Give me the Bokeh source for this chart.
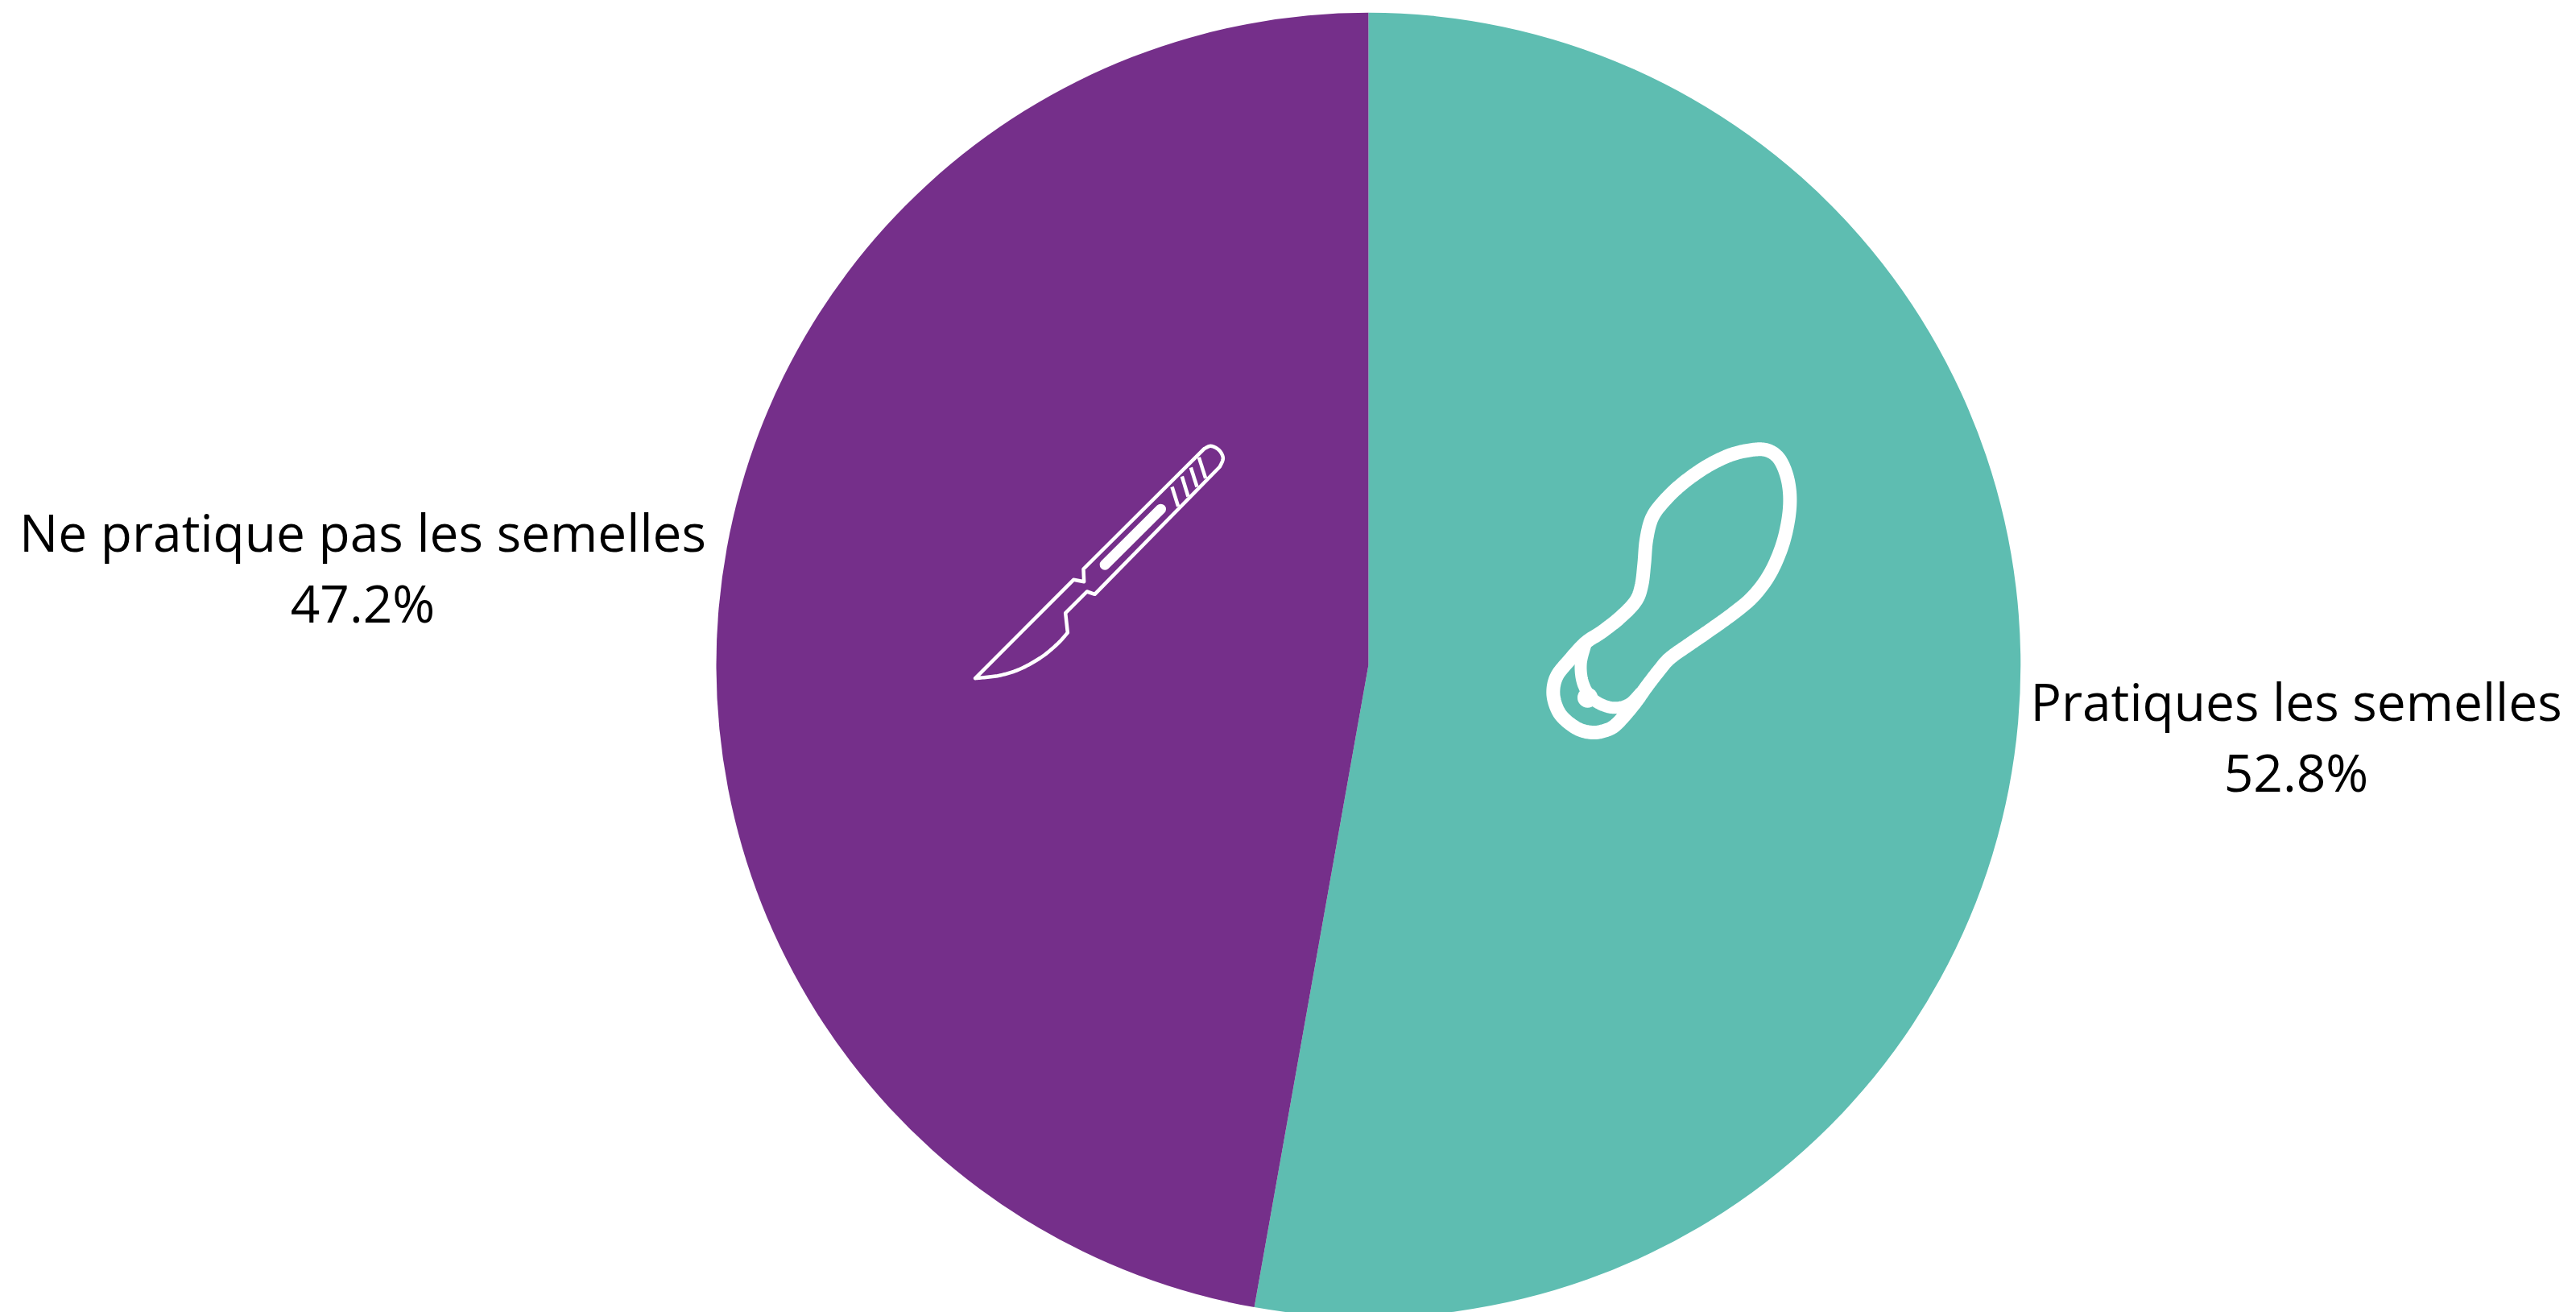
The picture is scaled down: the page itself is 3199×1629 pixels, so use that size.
from bokeh.plotting import figure
from bokeh.models import Range1d
from bokeh.core.properties import value
from bokeh.embed import file_html
from bokeh.resources import INLINE
import math

# ---- chart data ----
categories = ["Pratiques les semelles", "Ne pratique pas les semelles"]
shares = [52.8, 47.2]
colors = ["#5EBDB1", "#752F8A"]

W, H = 3199, 1629
CX, CY, R = 1698.9, 825.2, 809.9
LABEL_POS = [(2851, 870, 958), (450, 660, 748)]
FONT = "64px"

def X(px): return px
def Y(py): return H - py

p = figure(width=W, height=H, output_backend="svg", toolbar_location=None,
           x_range=Range1d(0, W), y_range=Range1d(0, H),
           min_border=0, outline_line_color=None, background_fill_color="white",
           border_fill_color="white")
p.axis.visible = False
p.grid.visible = False

# pie slices, clockwise from 12 o'clock
total = sum(shares)
angle = math.pi / 2
for share, col in zip(shares, colors):
    sweep = 2 * math.pi * share / total
    p.wedge(x=[CX], y=[Y(CY)], radius=R, start_angle=angle, end_angle=angle - sweep,
            direction="clock", fill_color=col, line_color=None)
    angle -= sweep

# labels
for cat, share, (lx, b1, b2) in zip(categories, shares, LABEL_POS):
    for txt, b in ((cat, b1), (f"{share}%", b2)):
        p.text(x=[lx], y=[Y(b)], text=[txt], text_font=value("Open Sans"),
               text_font_size=FONT, text_color="#000000", text_align="center",
               text_baseline="alphabetic")

# ---- decorative icons (outline only) ----
def smooth(pts, closed=False, n=16):
    out = []
    m = len(pts)
    rng = range(m if closed else m - 1)
    for i in rng:
        if closed:
            p0, p1, p2, p3 = pts[(i-1) % m], pts[i], pts[(i+1) % m], pts[(i+2) % m]
        else:
            p0, p1, p2, p3 = pts[max(i-1, 0)], pts[i], pts[i+1], pts[min(i+2, m-1)]
        for k in range(n):
            t = k / n
            out.append(tuple(0.5 * (2*p1[d] + (p2[d]-p0[d])*t + (2*p0[d]-5*p1[d]+4*p2[d]-p3[d])*t*t
                                    + (3*p1[d]-p0[d]-3*p2[d]+p3[d])*t**3) for d in (0, 1)))
    out.append(pts[0] if closed else pts[-1])
    return out

def draw(pts, ox, oy, width, cap="round"):
    p.line([X(ox + a / 3) for a, b in pts], [Y(oy + b / 3) for a, b in pts],
           line_color="white", line_width=width, line_join="round", line_cap=cap)

# scalpel
ox, oy = 1180, 530
outline = [(92, 935), (458, 568), (497, 575), (495, 528), (945, 80)]
outline += smooth([(945, 80), (970, 70), (1000, 85), (1015, 115), (1003, 147)])
outline += [(537, 622), (508, 612), (428, 692), (436, 765)]
outline += smooth([(436, 765), (400, 805), (340, 855), (260, 900), (180, 925), (92, 935)])
draw(outline, ox, oy, 4.5)
for seg in [[(825, 222), (848, 295)], [(862, 183), (885, 258)],
            [(895, 150), (918, 222)], [(925, 112), (950, 190)]]:
    draw(seg, ox, oy, 4.5, cap="butt")
draw([(575, 512), (783, 305)], ox, oy, 13)

# sole
ox, oy = 1900, 530
sole = [(205, 803), (265, 763), (335, 708), (392, 648), (414, 590), (424, 510), (432, 420),
        (452, 340), (492, 282), (560, 215), (650, 150), (740, 105), (820, 85), (880, 85),
        (925, 115), (955, 180), (967, 260), (960, 350), (935, 450), (890, 550), (830, 630),
        (760, 690), (670, 755), (590, 810), (520, 860), (480, 905), (430, 970), (395, 1020),
        (350, 1075), (310, 1115), (270, 1132), (230, 1137), (180, 1125), (130, 1090),
        (100, 1050), (85, 990), (98, 928), (145, 868)]
draw(smooth(sole, closed=True), ox, oy, 17)
heel = [(205, 810), (188, 880), (195, 950), (225, 1005), (270, 1035), (320, 1045), (370, 1030), (410, 990)]
draw(smooth(heel), ox, oy, 15)
draw([(213, 1007), (213.5, 1007)], ox, oy, 25)

open("out.html", "w").write(file_html(p, INLINE))
